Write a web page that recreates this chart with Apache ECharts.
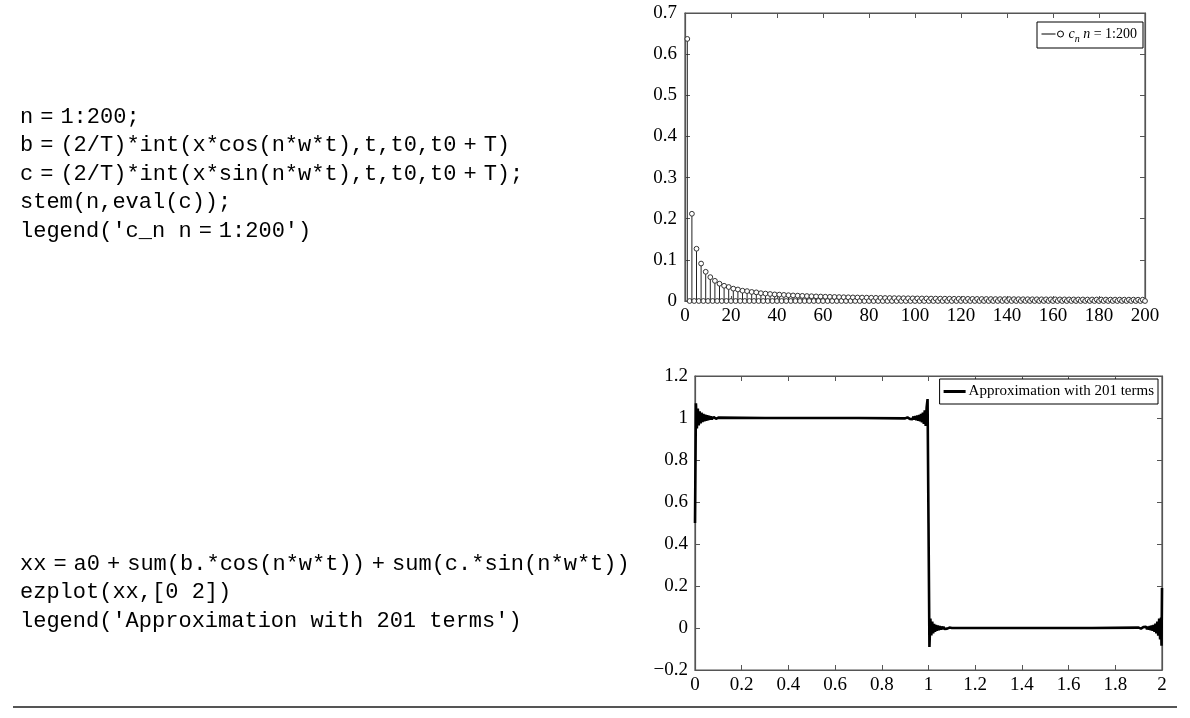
<!DOCTYPE html>
<html>
<head>
<meta charset="utf-8">
<script src="https://cdn.jsdelivr.net/npm/echarts@6/dist/echarts.min.js"></script>
<style>
html,body{margin:0;padding:0;background:#fff;}
#chart{width:1190px;height:718px;}
</style>
</head>
<body>
<div id="chart"></div>
<script>
// ---------- data ----------
// Top: stem plot of c_n, n = 1..200
const stemN = Array.from({length: 200}, (_, i) => i + 1);
const stemC = [
0.637,0,0.212,0,0.127,0,0.091,0,0.071,0,0.058,0,0.049,0,0.042,0,0.037,0,0.034,0,
0.030,0,0.028,0,0.025,0,0.024,0,0.022,0,0.021,0,0.019,0,0.018,0,0.017,0,0.016,0,
0.0155,0,0.0148,0,0.0141,0,0.0135,0,0.013,0,0.0125,0,0.012,0,0.0116,0,0.0112,0,0.0108,0,
0.0104,0,0.0101,0,0.0098,0,0.0095,0,0.0092,0,0.009,0,0.0087,0,0.0085,0,0.0083,0,0.0081,0,
0.0079,0,0.0077,0,0.0075,0,0.0073,0,0.0072,0,0.007,0,0.0068,0,0.0067,0,0.0066,0,0.0064,0,
0.0063,0,0.0062,0,0.0061,0,0.0059,0,0.0058,0,0.0057,0,0.0056,0,0.0055,0,0.0054,0,0.0053,0,
0.0053,0,0.0052,0,0.0051,0,0.005,0,0.0049,0,0.0049,0,0.0048,0,0.0047,0,0.0046,0,0.0046,0,
0.0045,0,0.0045,0,0.0044,0,0.0043,0,0.0043,0,0.0042,0,0.0042,0,0.0041,0,0.0041,0,0.004,0,
0.004,0,0.0039,0,0.0039,0,0.0038,0,0.0038,0,0.0037,0,0.0037,0,0.0036,0,0.0036,0,0.0036,0,
0.0035,0,0.0035,0,0.0034,0,0.0034,0,0.0034,0,0.0033,0,0.0033,0,0.0033,0,0.0032,0,0.0032,0
];
const stemXTicks = {min: 0, max: 200, interval: 20};
const stemYTicks = {min: 0, max: 0.7, interval: 0.1};

// Bottom: Fourier approximation with 201 terms
const approxT = [
0, 0.004, 0.008, 0.012, 0.016, 0.020, 0.024, 0.028, 0.032, 0.036, 0.040, 0.044, 0.048, 0.052, 0.056, 0.060, 0.064, 0.068, 0.072, 0.080, 0.090, 0.100,
0.300, 0.500, 0.700, 0.900,
0.910, 0.920, 0.928, 0.932, 0.936, 0.940, 0.944, 0.948, 0.952, 0.956, 0.960, 0.964, 0.968, 0.972, 0.976, 0.980, 0.984, 0.988, 0.992, 0.996,
1.000, 1.004, 1.008, 1.012, 1.016, 1.020, 1.024, 1.028, 1.032, 1.036, 1.040, 1.044, 1.048, 1.052, 1.056, 1.060, 1.064, 1.068, 1.072, 1.080, 1.090, 1.100,
1.300, 1.500, 1.700, 1.900,
1.910, 1.920, 1.928, 1.932, 1.936, 1.940, 1.944, 1.948, 1.952, 1.956, 1.960, 1.964, 1.968, 1.972, 1.976, 1.980, 1.984, 1.988, 1.992, 1.996, 1.998, 2.000
];
const approxY = [
0.50, 1.07, 0.95, 1.045, 0.965, 1.032, 0.974, 1.025, 0.980, 1.020, 0.984, 1.016, 0.987, 1.013, 0.990, 1.010, 0.992, 1.008, 0.994, 1.005, 0.996, 1.002,
1.0, 1.0, 1.0, 0.998,
1.003, 0.996, 1.005, 0.994, 1.007, 0.992, 1.009, 0.990, 1.012, 0.987, 1.015, 0.984, 1.019, 0.979, 1.026, 0.972, 1.036, 0.962, 1.05, 1.09,
0.50, -0.09, 0.045, -0.035, 0.030, -0.025, 0.020, -0.018, 0.015, -0.013, 0.012, -0.010, 0.009, -0.008, 0.007, -0.006, 0.006, -0.005, 0.004, -0.003, 0.002, 0.0,
0.0, 0.0, 0.0, 0.002,
-0.003, 0.004, -0.005, 0.006, -0.006, 0.007, -0.008, 0.009, -0.010, 0.012, -0.013, 0.015, -0.018, 0.021, -0.025, 0.030, -0.036, 0.045, -0.055, 0.050, -0.085, 0.19
];
const approxXTicks = {min: 0, max: 2, interval: 0.2};
const approxYTicks = {min: -0.2, max: 1.2, interval: 0.2};

// Code listing text
const codeTop = [
  "n=1:200;",
  "b=(2/T)*int(x*cos(n*w*t),t,t0,t0+T)",
  "c=(2/T)*int(x*sin(n*w*t),t,t0,t0+T);",
  "stem(n,eval(c));",
  "legend('c_n n=1:200')"
];
const codeBottom = [
  "xx=a0+sum(b.*cos(n*w*t))+sum(c.*sin(n*w*t))",
  "ezplot(xx,[0 2])",
  "legend('Approximation with 201 terms')"
];
const legendTop = 'c_n n = 1:200';
const legendBottom = 'Approximation with 201 terms';

// ---------- chart ----------
const SERIF = '"Liberation Serif", "DejaVu Serif", serif';
const MONO = '"Liberation Mono", "DejaVu Sans Mono", monospace';
const AX = '#555';

function mkAxes(gridIndex, t, isX, margin) {
  const base = {
    gridIndex, type: 'value', min: t.min, max: t.max, interval: t.interval,
    splitLine: {show: false},
    axisLine: {show: true, onZero: false, lineStyle: {color: AX, width: 1.2}},
    axisTick: {show: true, inside: true, length: 5, lineStyle: {color: AX, width: 1}},
  };
  const main = Object.assign({}, base, {
    position: isX ? 'bottom' : 'left',
    axisLabel: {show: true, color: '#000', fontFamily: SERIF, fontSize: 19, margin,
      formatter: v => { let s = String(Math.round(v * 1000) / 1000); return s.replace('-', '\u2212'); }},
  });
  const mirror = Object.assign({}, base, {
    position: isX ? 'top' : 'right',
    axisLabel: {show: false},
  });
  return [main, mirror];
}

const xAxes = [...mkAxes(0, stemXTicks, true, 6), ...mkAxes(1, approxXTicks, true, 6)];
const yAxes = [...mkAxes(0, stemYTicks, false, 8), ...mkAxes(1, approxYTicks, false, 7)];

const stemData = stemN.map((n, i) => [n, stemC[i]]);
const approxData = approxT.map((t, i) => [t, approxY[i]]);

const codeRich = {op: {font: '22px ' + MONO, fill: '#000', padding: [0, 7, 0, 7]}};
function richCode(s) { return s.replace(/([=+])/g, '{op|$1}'); }

const graphics = [];
codeTop.forEach((s, i) => graphics.push({
  type: 'text', x: 20, y: 117 + i * 28.5,
  style: {text: richCode(s), font: '22px ' + MONO, fill: '#000', verticalAlign: 'middle', rich: codeRich}
}));
codeBottom.forEach((s, i) => graphics.push({
  type: 'text', x: 20, y: 564 + i * 28.5,
  style: {text: richCode(s), font: '22px ' + MONO, fill: '#000', verticalAlign: 'middle', rich: codeRich}
}));
graphics.push({
  type: 'line', shape: {x1: 13, y1: 707, x2: 1177, y2: 707},
  style: {stroke: '#555', lineWidth: 2}
});

const option = {
  animation: false,
  backgroundColor: '#fff',
  grid: [
    {left: 685, right: 45, top: 13, height: 288, show: true, borderColor: AX, borderWidth: 1.2, backgroundColor: 'transparent'},
    {left: 695, right: 28, top: 376, height: 294, show: true, borderColor: AX, borderWidth: 1.2, backgroundColor: 'transparent'}
  ],
  xAxis: xAxes,
  yAxis: yAxes,
  legend: [
    {
      data: [{name: legendTop,
        icon: 'path://M0,4 L14,4 M16,4 A3,3 0 1,1 22,4 A3,3 0 1,1 16,4 Z',
        itemStyle: {color: '#fff', borderColor: '#000', borderWidth: 1}}],
      right: 1190 - 1143, top: 22,
      itemWidth: 22, itemHeight: 6, itemGap: 2,
      padding: [5, 6, 4, 4],
      borderColor: '#000', borderWidth: 1, backgroundColor: '#fff',
      formatter: () => '{i|c}{s|n} {i|n} = 1:200',
      textStyle: {
        fontFamily: SERIF, fontSize: 14, color: '#000',
        rich: {
          i: {fontFamily: SERIF, fontSize: 14, fontStyle: 'italic', color: '#000'},
          s: {fontFamily: SERIF, fontSize: 10, fontStyle: 'italic', color: '#000', verticalAlign: 'bottom', lineHeight: 20}
        }
      }
    },
    {
      data: [{name: legendBottom, icon: 'rect', itemStyle: {color: '#000'}}],
      right: 1190 - 1158, top: 379,
      itemWidth: 22, itemHeight: 3, itemGap: 2,
      padding: [5, 4, 5, 4],
      borderColor: '#000', borderWidth: 1, backgroundColor: '#fff',
      textStyle: {fontFamily: SERIF, fontSize: 15, color: '#000', padding: [0, 0, 0, -2]}
    }
  ],
  graphic: graphics,
  series: [
    {
      name: legendTop,
      type: 'custom',
      xAxisIndex: 0, yAxisIndex: 0,
      data: stemData,
      clip: false,
      renderItem: (params, api) => {
        const top = api.coord([api.value(0), api.value(1)]);
        const base = api.coord([api.value(0), 0]);
        return {
          type: 'group',
          children: [
            {type: 'line', shape: {x1: top[0], y1: base[1], x2: top[0], y2: top[1]},
             style: {stroke: '#222', lineWidth: 1}},
            {type: 'circle', shape: {cx: top[0], cy: top[1], r: 2.4},
             style: {fill: '#fff', stroke: '#333', lineWidth: 1}}
          ]
        };
      }
    },
    {
      name: legendBottom,
      type: 'line',
      xAxisIndex: 2, yAxisIndex: 2,
      data: approxData,
      showSymbol: false,
      symbol: 'none',
      lineStyle: {color: '#000', width: 2.6},
      clip: true
    }
  ]
};

const chart = echarts.init(document.getElementById('chart'), null, {renderer: 'canvas'});
chart.setOption(option);
</script>
</body>
</html>
